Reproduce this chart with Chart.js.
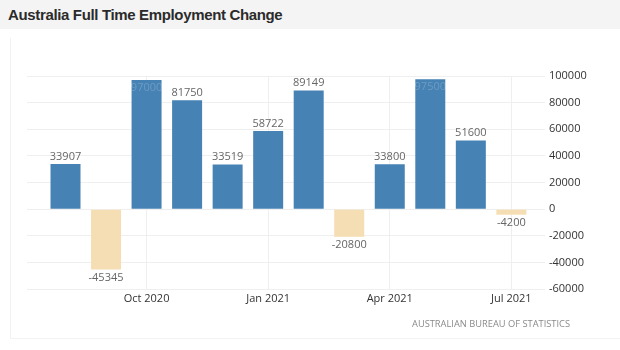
<!DOCTYPE html>
<html>
<head>
<meta charset="utf-8">
<script src="https://cdn.jsdelivr.net/npm/chart.js@4"></script>
<style>
  body { margin: 0; width: 620px; height: 350px; background: #fff; position: relative; overflow: hidden; font-family: "Liberation Sans", Arial, sans-serif; }
  #head { position: absolute; left: 0; top: 0; width: 620px; height: 29px; background: #f4f4f4; }
  #head h1 { margin: 0; position: absolute; left: 8px; top: 6px; font-size: 15px; font-weight: bold; color: #2b2b2b; letter-spacing: -0.35px; }
  #panel { position: absolute; left: 10px; top: 38px; width: 640px; height: 300px; border-left: 1px solid #f2f2f2; border-bottom: 1px solid #f2f2f2; }
  #wrap { position: absolute; left: 10px; top: 40px; width: 610px; height: 310px; }
  #src { position: absolute; left: 412px; top: 317px; font-family: "Open Sans", sans-serif; font-size: 9.3px; color: #8a8a8a; }
</style>
</head>
<body>
<div id="head"><h1>Australia Full Time Employment Change</h1></div>
<div id="panel"></div>
<div id="wrap"><canvas id="c"></canvas></div>
<div id="src">AUSTRALIAN BUREAU OF STATISTICS</div>
<script>
// months shown, Aug 2020 .. Jul 2021
const months = ['Aug 2020', 'Sep 2020', 'Oct 2020', 'Nov 2020', 'Dec 2020', 'Jan 2021',
                'Feb 2021', 'Mar 2021', 'Apr 2021', 'May 2021', 'Jun 2021', 'Jul 2021'];
// full time employment change (persons)
const change = [33907, -45345, 97000, 81750, 33519, 58722, 89149, -20800, 33800, 97500, 51600, -4200];
// labels printed on the bars (Oct / May are faint inside the bar)
const barText = ['33907', '-45345', '97000', '81750', '33519', '58722', '89149', '-20800', '33800', '97500', '51600', '-4200'];
// x positions that carry a tick label
const tickIdx = [2, 5, 8, 11];

const valueLabels = {
  id: 'valueLabels',
  afterDatasetsDraw(chart) {
    const ctx = chart.ctx;
    const meta = chart.getDatasetMeta(0);
    ctx.save();
    ctx.font = '11px "Open Sans", sans-serif';
    ctx.textAlign = 'center';
    meta.data.forEach((bar, i) => {
      const v = change[i];
      if (v >= 0) {
        if (bar.y - chart.chartArea.top < 10) {
          // no room above: faint text inside the bar top
          ctx.fillStyle = 'rgba(255,255,255,0.2)';
          ctx.textBaseline = 'top';
          ctx.fillText(barText[i], bar.x, bar.y + 2);
        } else {
          ctx.fillStyle = '#666';
          ctx.textBaseline = 'bottom';
          ctx.fillText(barText[i], bar.x, bar.y - 2);
        }
      } else {
        ctx.fillStyle = '#666';
        ctx.textBaseline = 'top';
        ctx.fillText(barText[i], bar.x, bar.y + 3);
      }
    });
    ctx.restore();
  }
};

new Chart(document.getElementById('c'), {
  type: 'bar',
  data: {
    datasets: [{
      data: change.map((v, i) => ({ x: i, y: v })),
      backgroundColor: change.map(v => v >= 0 ? '#4682b4' : '#f5deb3'),
      borderWidth: 0,
      categoryPercentage: 1,
      barPercentage: 0.74
    }]
  },
  options: {
    responsive: true,
    maintainAspectRatio: false,
    animation: false,
    layout: { padding: { left: 17, top: 36, right: 0, bottom: 0 } },
    plugins: { legend: { display: false }, tooltip: { enabled: false } },
    scales: {
      x: {
        type: 'linear',
        offset: false,
        min: -0.95,
        max: 11.83,
        afterBuildTicks: s => { s.ticks = tickIdx.map(v => ({ value: v })); },
        afterFit: s => { s.height = 61; },
        grid: { color: '#efefef', drawTicks: false, offset: false },
        border: { display: false },
        ticks: {
          padding: 3,
          color: '#333',
          font: { family: '"Open Sans", sans-serif', size: 11 },
          callback: v => months[v]
        }
      },
      y: {
        position: 'right',
        min: -60000,
        max: 100000,
        afterFit: s => { s.width = 75; },
        grid: { color: '#efefef', drawTicks: false },
        border: { display: false },
        ticks: {
          stepSize: 20000,
          padding: 4,
          color: '#333',
          font: { family: '"Open Sans", sans-serif', size: 11 },
          callback: v => String(v)
        }
      }
    }
  },
  plugins: [valueLabels]
});
</script>
</body>
</html>
